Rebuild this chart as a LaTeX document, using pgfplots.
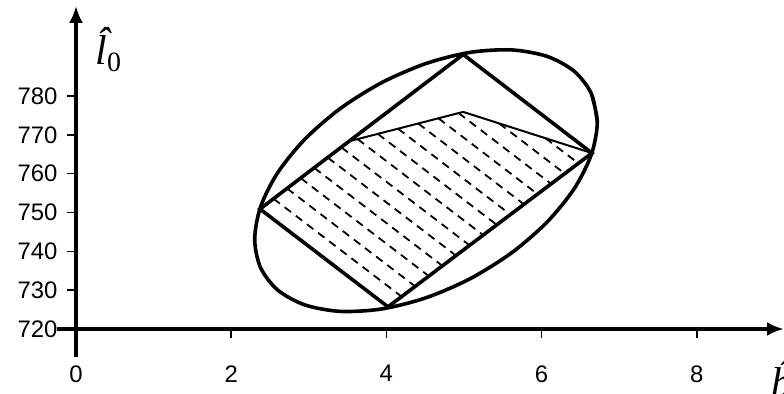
\documentclass[border=0pt]{standalone}
\usepackage{fontspec}
\setmainfont{Liberation Sans}
\newfontfamily\serifit{Liberation Serif}
\usepackage{pgfplots}
\pgfplotsset{compat=1.18}
\usetikzlibrary{arrows.meta}

\pgfplotsset{
  hatch/.style={line width=1.8bp, dash pattern=on 8bp off 6bp, black},
}

\begin{document}
\begin{tikzpicture}
\begin{axis}[
  scale only axis, width=708bp, height=323.1bp,
  xmin=0, xmax=9.124, ymin=720, ymax=803.2,
  enlargelimits=false,
  axis x line=bottom, axis y line=left,
  x axis line style={line width=3.4bp, -{Latex[length=17bp,width=14bp]}, shorten <=-19bp},
  y axis line style={line width=3.4bp, -{Latex[length=17bp,width=14bp]}, shorten <=-28bp},
  xtick={0,2,4,6,8}, ytick={720,730,...,780},
  tick align=outside, major tick length=9bp,
  tick style={line width=1.6bp, black},
  /pgf/number format/assume math mode=true,
  ticklabel style={font=\fontsize{24}{24}\selectfont},
  xticklabel style={yshift=-24bp},
  yticklabel style={xshift=-6bp},
  clip=false,
]
\coordinate (O) at (axis cs:0,720);

% confidence ellipse
\addplot[line width=3.6bp, smooth, black] coordinates {
  (6.718,773.29) (6.642,780.58) (6.422,786.35) (6.071,790.20) (5.614,791.86)
  (5.081,791.24) (4.510,788.36) (3.939,783.43) (3.406,776.77) (2.949,768.86)
  (2.598,760.21) (2.378,751.43) (2.303,743.11) (2.378,735.82) (2.598,730.05)
  (2.949,726.20) (3.406,724.54) (3.939,725.16) (4.510,728.04) (5.081,732.97)
  (5.614,739.63) (6.071,747.54) (6.422,756.19) (6.642,764.97) (6.718,773.29)
  (6.642,780.58)
};

% hatching of the admissible region
\addplot[hatch] coordinates {(2.546,753.54) (4.196,728.34)};
\addplot[hatch] coordinates {(2.721,756.18) (4.371,730.98)};
\addplot[hatch] coordinates {(2.897,758.82) (4.547,733.62)};
\addplot[hatch] coordinates {(3.072,761.46) (4.722,736.26)};
\addplot[hatch] coordinates {(3.247,764.10) (4.897,738.90)};
\addplot[hatch] coordinates {(3.422,766.74) (5.072,741.54)};
\addplot[hatch] coordinates {(3.630,768.89) (5.247,744.18)};
\addplot[hatch] coordinates {(3.890,770.23) (5.423,746.82)};
\addplot[hatch] coordinates {(4.150,771.58) (5.598,749.46)};
\addplot[hatch] coordinates {(4.410,772.92) (5.773,752.10)};
\addplot[hatch] coordinates {(4.670,774.26) (5.948,754.74)};
\addplot[hatch] coordinates {(4.930,775.61) (6.123,757.38)};
\addplot[hatch] coordinates {(5.454,772.92) (6.299,760.02)};
\addplot[hatch] coordinates {(6.051,769.11) (6.474,762.66)};

% upper boundary of the region
\addplot[line width=2bp, black] coordinates {(3.531,768.4) (4.99,775.9) (6.649,765.3)};

% rectangle
\addplot[line width=3.6bp, black] coordinates {
  (2.371,750.9) (4.99,790.7) (6.649,765.3) (4.021,725.7)
} -- cycle;

\node[anchor=base west, inner sep=0pt, font=\fontsize{42}{42}\serifit\itshape]
  at (axis cs:0.25,788.0) {\accent"02C6 l\raisebox{-7bp}{\fontsize{28}{28}\selectfont\upshape 0}};
\node[anchor=base west, inner sep=0pt, font=\fontsize{42}{42}\serifit\itshape]
  at (axis cs:8.96,702.5) {\accent"02C6 b};
\end{axis}
\pgfresetboundingbox
\path (O) +(-76bp,-65bp) rectangle +(708bp,329bp);
\end{tikzpicture}
\end{document}
